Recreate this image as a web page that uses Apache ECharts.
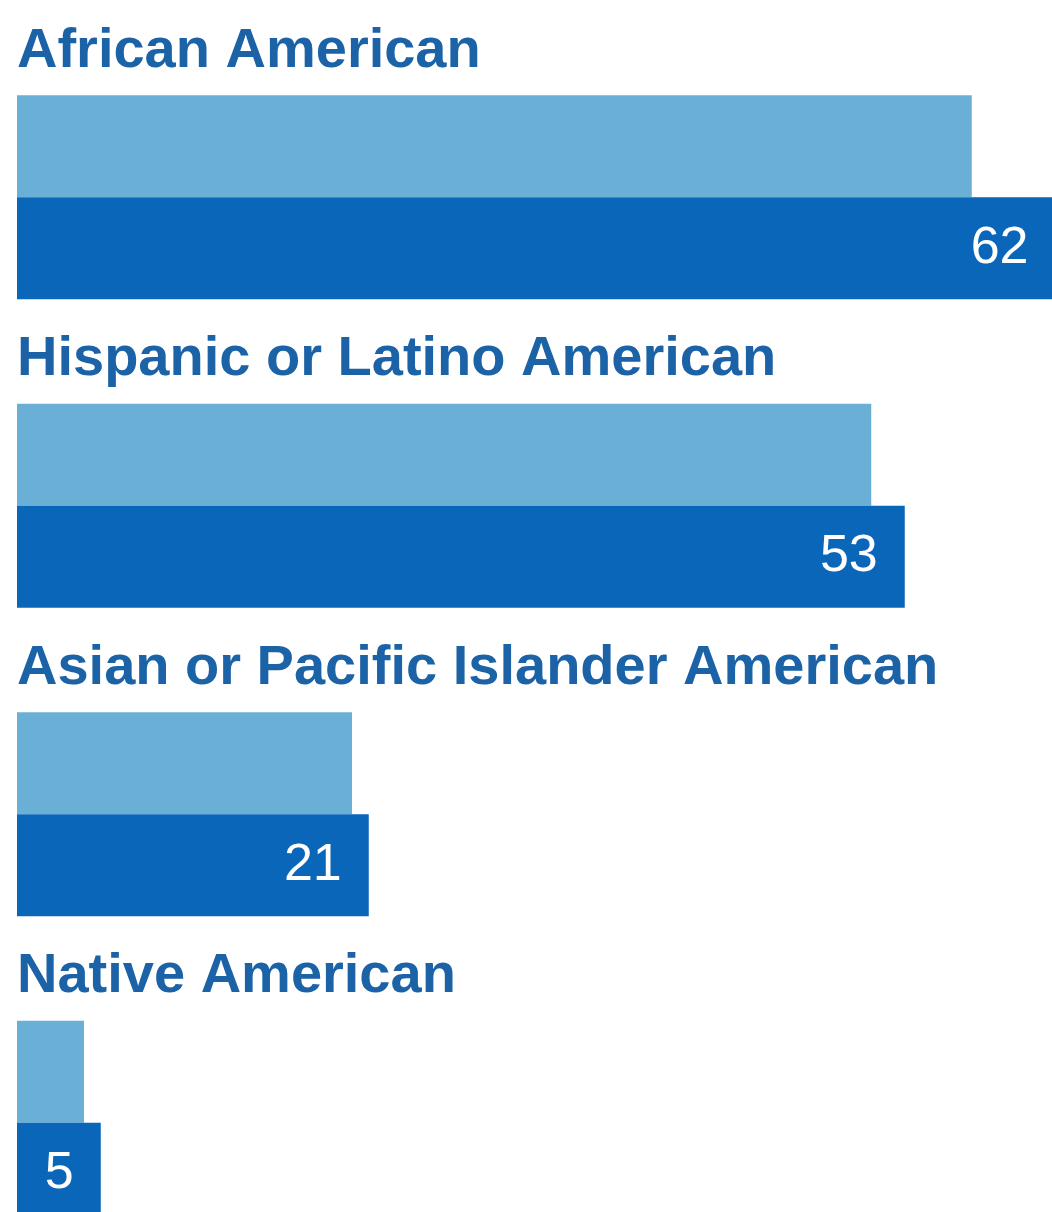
<!DOCTYPE html>
<html>
<head>
<meta charset="utf-8">
<title>Groups</title>
<script src="https://cdn.jsdelivr.net/npm/echarts@6/dist/echarts.min.js"></script>
<style>
  html, body { margin: 0; padding: 0; background: #ffffff; }
  #chart { width: 1052px; height: 1212px; }
</style>
</head>
<body>
<div id="chart"></div>
<script>
// Group names and the two measures per group
const groups = [
  'African American',
  'Hispanic or Latino American',
  'Asian or Pacific Islander American',
  'Native American'
];
const lightValues = [57, 51, 20, 4];
const darkValues = [62, 53, 21, 5];

const FONT = '"Liberation Sans", Arial, Helvetica, sans-serif';
const LIGHT = '#6aafd5';
const DARK = '#0a66b8';
const TITLE = '#1b63a6';

const chart = echarts.init(document.getElementById('chart'), null, { renderer: 'canvas' });

chart.setOption({
  backgroundColor: '#ffffff',
  animation: false,
  grid: {
    left: 17,
    top: 43,
    width: 63 * 16.75,
    height: 4 * 308.5,
    outerBoundsMode: 'none',
    containLabel: false
  },
  xAxis: {
    type: 'value',
    min: 0,
    max: 63,
    show: false
  },
  yAxis: {
    type: 'category',
    data: groups,
    inverse: true,
    axisLine: { show: false },
    axisTick: { show: false },
    splitLine: { show: false },
    axisLabel: {
      inside: true,
      margin: 0,
      align: 'left',
      verticalAlign: 'bottom',
      padding: [0, 0, 118, 0],
      color: TITLE,
      fontFamily: FONT,
      fontWeight: 'bold',
      fontSize: 56,
      lineHeight: 56
    }
  },
  series: [
    {
      type: 'bar',
      data: lightValues,
      barWidth: 102,
      barGap: '0%',
      clip: false,
      itemStyle: { color: LIGHT },
      label: { show: false }
    },
    {
      type: 'bar',
      data: darkValues,
      barWidth: 102,
      barGap: '0%',
      clip: false,
      itemStyle: { color: DARK },
      label: {
        show: true,
        position: 'insideRight',
        distance: 27,
        color: '#ffffff',
        fontFamily: FONT,
        fontSize: 52
      }
    }
  ]
});
</script>
</body>
</html>
